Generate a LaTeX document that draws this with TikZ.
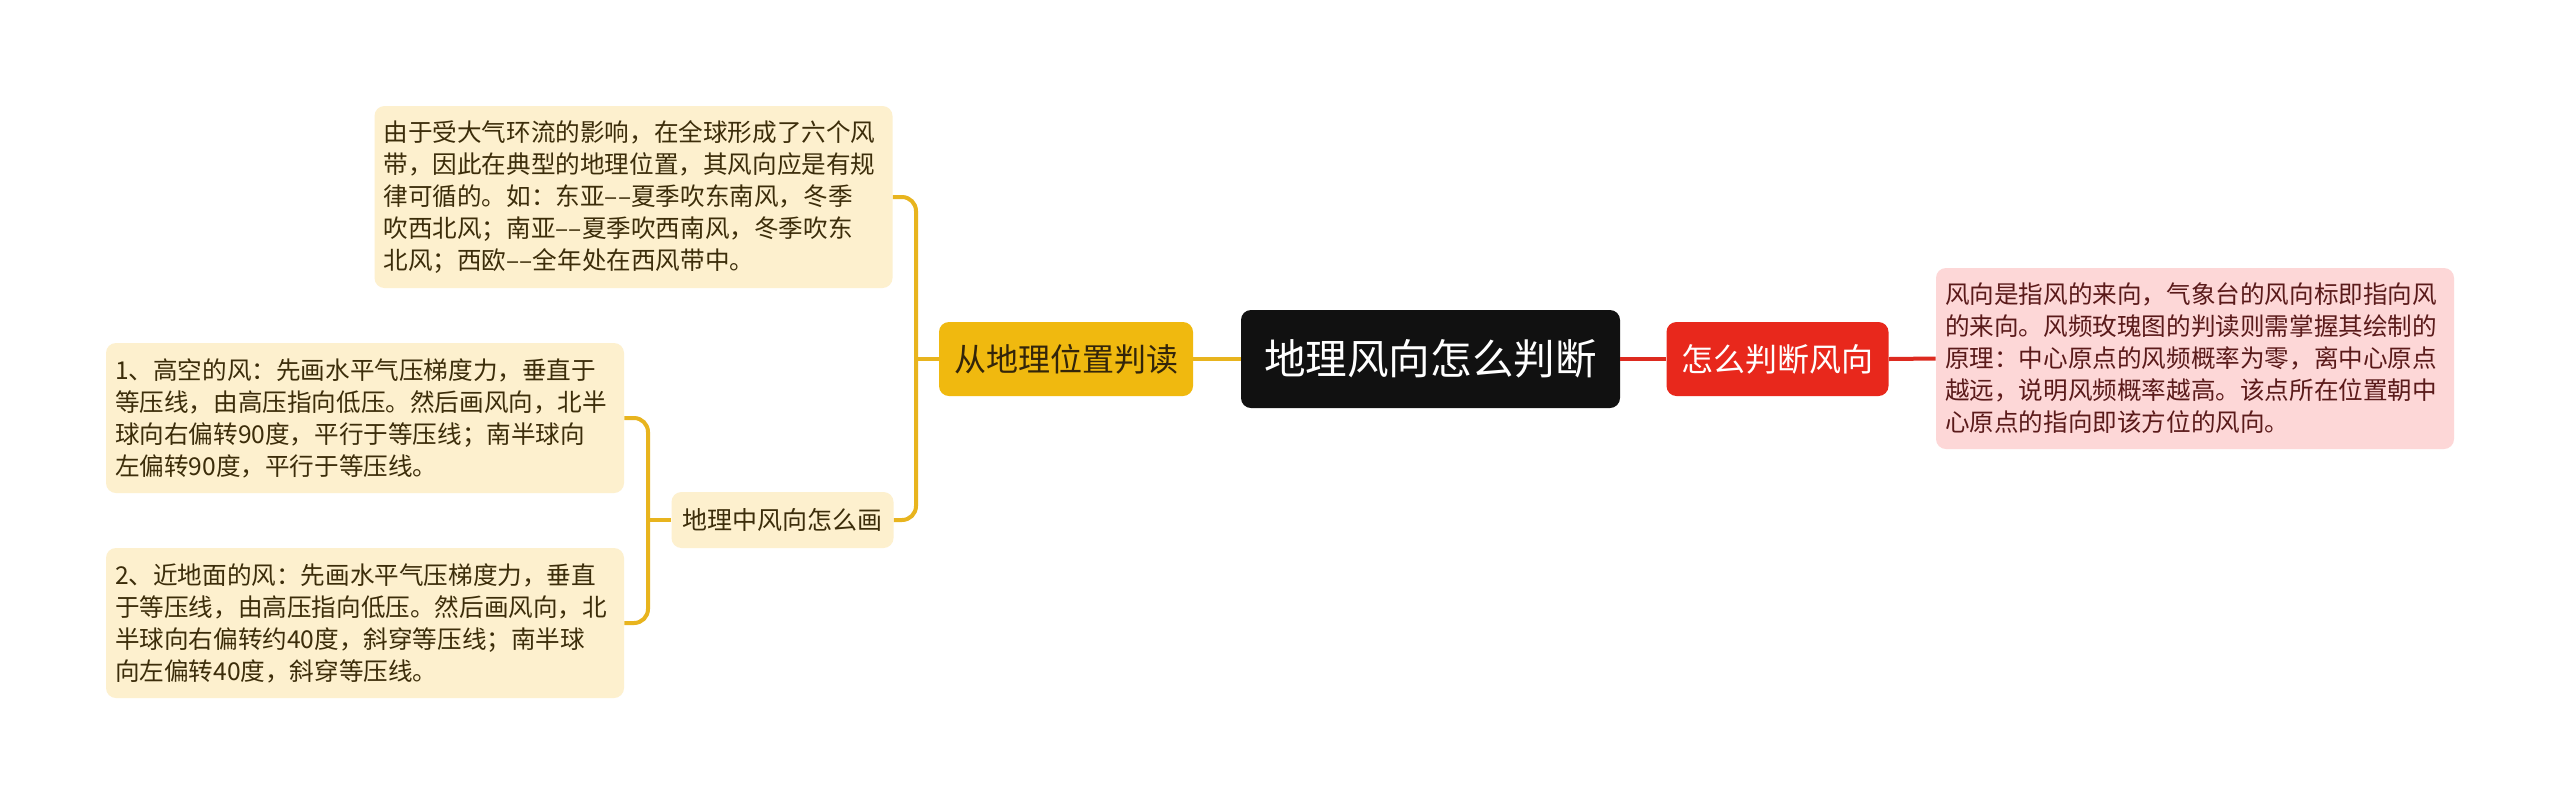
\documentclass[tikz,border=0pt]{standalone}
\usepackage{fontspec}
\setmainfont{Noto Sans CJK SC}
\definecolor{rootc}{HTML}{111111}
\definecolor{ynode}{HTML}{F0B90F}
\definecolor{yline}{HTML}{E8B41E}
\definecolor{ytext}{HTML}{33250A}
\definecolor{leafc}{HTML}{FDF0CE}
\definecolor{leaft}{HTML}{3C2D0A}
\definecolor{rnode}{HTML}{E8281C}
\definecolor{rline}{HTML}{DD2A1F}
\definecolor{pinkc}{HTML}{FDD7D7}
\definecolor{pinkt}{HTML}{5A1A1A}
\tikzset{
  rootbox/.style={rectangle, rounded corners=5pt, fill=rootc, text=white, inner sep=0pt,
    minimum width=189.5pt, minimum height=49pt, font=\fontsize{20.8pt}{26pt}\selectfont},
  ybox/.style={rectangle, rounded corners=5pt, fill=ynode, text=ytext, inner sep=0pt,
    minimum width=127pt, minimum height=37pt, font=\fontsize{16pt}{20pt}\selectfont},
  rbox/.style={rectangle, rounded corners=5pt, fill=rnode, text=white, inner sep=0pt,
    minimum width=111pt, minimum height=37pt, font=\fontsize{16pt}{20pt}\selectfont},
  leafbox/.style={rectangle, rounded corners=5pt, fill=leafc, text=leaft, align=left,
    text width=250pt, inner xsep=4.5pt, inner ysep=0pt,
    font=\fontsize{12.3pt}{16pt}\selectfont},
  pinkbox/.style={leafbox, fill=pinkc, text=pinkt},
  midbox/.style={rectangle, rounded corners=5pt, fill=leafc, text=leaft, inner sep=0pt,
    minimum width=111pt, minimum height=28pt, font=\fontsize{12.5pt}{16pt}\selectfont},
  yconn/.style={draw=yline, line width=2pt, rounded corners=7pt},
  rconn/.style={draw=rline, line width=2pt},
}
\begin{document}
\begin{tikzpicture}[x=0.5pt, y=-0.5pt]
\useasboundingbox (0,0) rectangle (2560,805);
\fill[white] (0,0) rectangle (2560,805);

% nodes
\node[rootbox] (root) at (1430.5,359) {地理风向怎么判断};
\node[ybox] (geo) at (1066,359) {从地理位置判读};
\node[rbox] (how) at (1777.5,359) {怎么判断风向};
\node[pinkbox, minimum height=90.5pt] (pink) at (2195,358.5) {风向是指风的来向，气象台的风向标即指向风\\的来向。风频玫瑰图的判读则需掌握其绘制的\\原理：中心原点的风频概率为零，离中心原点\\越远，说明风频概率越高。该点所在位置朝中\\心原点的指向即该方位的风向。};
\node[leafbox, minimum height=91pt] (top) at (633.5,197) {由于受大气环流的影响，在全球形成了六个风\\带，因此在典型的地理位置，其风向应是有规\\律可循的。如：东亚–{}–夏季吹东南风，冬季\\吹西北风；南亚–{}–夏季吹西南风，冬季吹东\\北风；西欧–{}–全年处在西风带中。};
\node[midbox] (mid) at (782.5,520) {地理中风向怎么画};
\node[leafbox, minimum height=75pt] (l1) at (365,418) {1、高空的风：先画水平气压梯度力，垂直于\\等压线，由高压指向低压。然后画风向，北半\\球向右偏转90度，平行于等压线；南半球向\\左偏转90度，平行于等压线。};
\node[leafbox, minimum height=75pt] (l2) at (365,623) {2、近地面的风：先画水平气压梯度力，垂直\\于等压线，由高压指向低压。然后画风向，北\\半球向右偏转约40度，斜穿等压线；南半球\\向左偏转40度，斜穿等压线。};

% bus points
\coordinate (b1) at (916,359);
\coordinate (b2) at (648,520);

% connectors
\draw[yconn] (root.west) -- (geo.east);
\draw[yconn] (geo.west) -- (b1);
\draw[yconn] (top.east) -| (b1);
\draw[yconn] (mid.east) -| (b1);
\draw[yconn] (mid.west) -- (b2);
\draw[yconn] (l1.east) -| (b2);
\draw[yconn] (l2.east) -| (b2);
\draw[rconn] (root.east) -- (how.west);
\draw[rconn] (how.east) -- (pink.west);
\end{tikzpicture}
\end{document}
